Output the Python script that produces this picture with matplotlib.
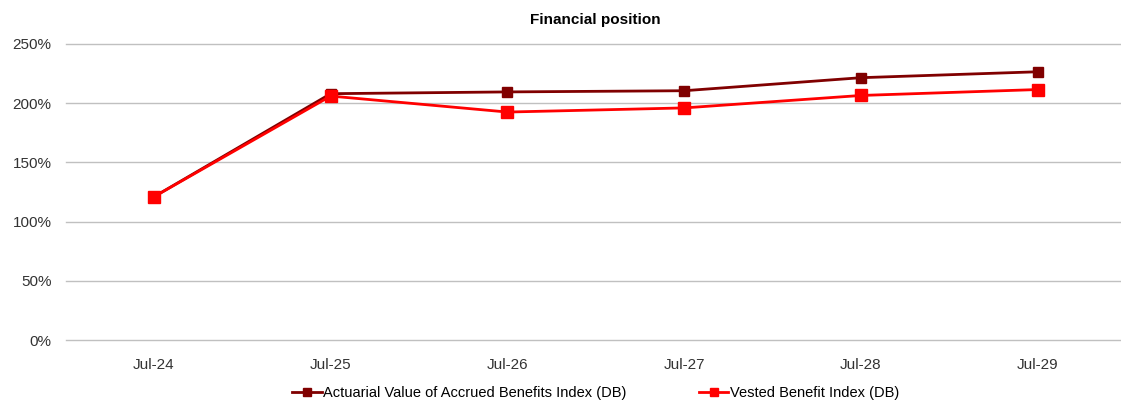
import matplotlib
matplotlib.use('Agg')
import matplotlib.pyplot as plt
from matplotlib.ticker import FuncFormatter

plt.rcParams['font.family'] = ['Liberation Sans', 'DejaVu Sans']

# data
periods = ['Jul-24', 'Jul-25', 'Jul-26', 'Jul-27', 'Jul-28', 'Jul-29']
avab = [121, 208, 209.5, 210.5, 221.5, 226.5]
vbi = [121, 206, 192.5, 196, 206.5, 211.5]

fig = plt.figure(figsize=(11.21, 4.03), dpi=100)
ax = fig.add_axes([0.0585, 0.156, 0.946, 0.735])

x = range(len(periods))
ax.plot(x, avab, color='#800000', lw=2, marker='s', ms=7,
        label='Actuarial Value of Accrued Benefits Index (DB)', zorder=3)
ax.plot(x, vbi, color='#ff0000', lw=2, marker='s', ms=8,
        label='Vested Benefit Index (DB)', zorder=4)

ax.set_xlim(-0.5, len(periods) - 0.5)
ax.set_ylim(0, 250)
ax.set_yticks(range(0, 251, 50))
ax.yaxis.set_major_formatter(FuncFormatter(lambda v, p: f'{v:.0f}%'))
ax.set_xticks(list(x))
ax.set_xticklabels(periods)
ax.grid(axis='y', color='#c0c0c0', lw=1)
for g in ax.get_ygridlines():
    g.set_clip_on(False)
ax.set_axisbelow(True)
for s in ax.spines.values():
    s.set_visible(False)
ax.tick_params(length=0, labelsize=11, colors='#333333', pad=10)
ax.tick_params(axis='x', pad=13)

ax.set_title('Financial position', fontsize=11, fontweight='bold', pad=14)
ax.legend(loc='upper center', bbox_to_anchor=(0.5, -0.11), ncol=2, frameon=False,
          fontsize=10.5, handlelength=2, handletextpad=0.1, columnspacing=5,
          markerscale=0.8)

fig.savefig('out.png', dpi=100)
